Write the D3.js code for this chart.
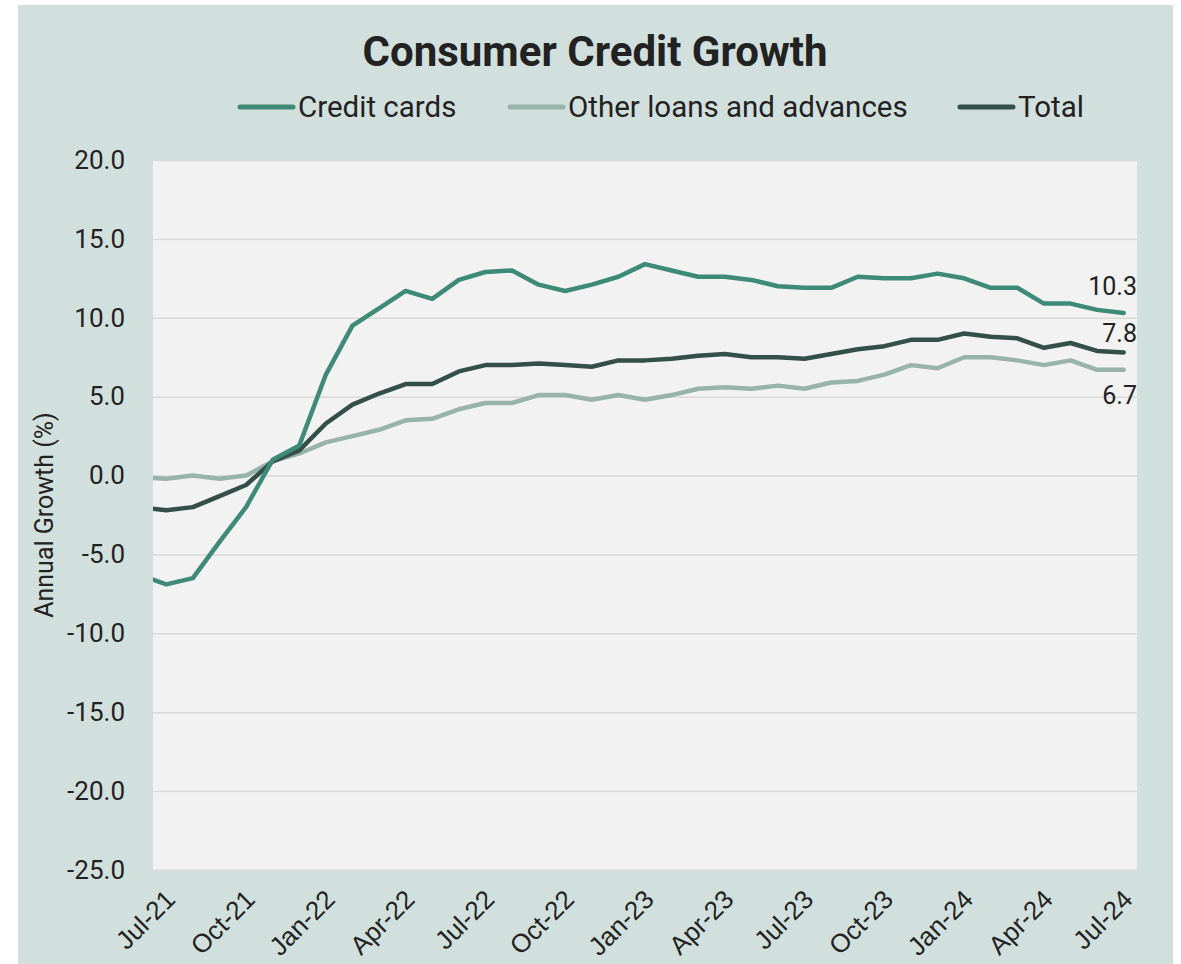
<!DOCTYPE html>
<html>
<head>
<meta charset="utf-8">
<script src="https://cdn.jsdelivr.net/npm/d3@7"></script>
<style>
  html, body { margin: 0; padding: 0; background: #ffffff; }
  svg { display: block; font-family: Roboto, "Noto Sans", sans-serif; }
</style>
</head>
<body>
<svg id="chart" width="1181" height="964"></svg>
<script>
// ---------- DATA ----------
const months = ["Jun-21",
  "Jul-21","Aug-21","Sep-21","Oct-21","Nov-21","Dec-21",
  "Jan-22","Feb-22","Mar-22","Apr-22","May-22","Jun-22",
  "Jul-22","Aug-22","Sep-22","Oct-22","Nov-22","Dec-22",
  "Jan-23","Feb-23","Mar-23","Apr-23","May-23","Jun-23",
  "Jul-23","Aug-23","Sep-23","Oct-23","Nov-23","Dec-23",
  "Jan-24","Feb-24","Mar-24","Apr-24","May-24","Jun-24",
  "Jul-24"];
const tickLabels = ["Jul-21","Oct-21","Jan-22","Apr-22","Jul-22","Oct-22","Jan-23",
  "Apr-23","Jul-23","Oct-23","Jan-24","Apr-24","Jul-24"];
const yTicks = [-25, -20, -15, -10, -5, 0, 5, 10, 15, 20];

const creditCards = [-6.3,
  -6.9, -6.5, -4.2, -2.0, 1.0, 1.9,
  6.4, 9.5, 10.6, 11.7, 11.2, 12.4,
  12.9, 13.0, 12.1, 11.7, 12.1, 12.6,
  13.4, 13.0, 12.6, 12.6, 12.4, 12.0,
  11.9, 11.9, 12.6, 12.5, 12.5, 12.8,
  12.5, 11.9, 11.9, 10.9, 10.9, 10.5,
  10.3];
const otherLoans = [-0.1,
  -0.2, 0.0, -0.2, 0.0, 0.9, 1.4,
  2.1, 2.5, 2.9, 3.5, 3.6, 4.2,
  4.6, 4.6, 5.1, 5.1, 4.8, 5.1,
  4.8, 5.1, 5.5, 5.6, 5.5, 5.7,
  5.5, 5.9, 6.0, 6.4, 7.0, 6.8,
  7.5, 7.5, 7.3, 7.0, 7.3, 6.7,
  6.7];
const total = [-2.0,
  -2.2, -2.0, -1.3, -0.6, 0.9, 1.6,
  3.3, 4.5, 5.2, 5.8, 5.8, 6.6,
  7.0, 7.0, 7.1, 7.0, 6.9, 7.3,
  7.3, 7.4, 7.6, 7.7, 7.5, 7.5,
  7.4, 7.7, 8.0, 8.2, 8.6, 8.6,
  9.0, 8.8, 8.7, 8.1, 8.4, 7.9,
  7.8];
const seriesNames = ["Credit cards", "Other loans and advances", "Total"];
const seriesColors = ["#3d8a78", "#98b4aa", "#344f47"];

// ---------- LAYOUT ----------
const svg = d3.select("#chart");
const plot = { left: 153, right: 1137, top: 160, bottom: 870 };
const firstShown = 1; // Jul-21 index in months

const x = d3.scaleLinear()
  .domain([firstShown - 0.5, months.length - 0.5])
  .range([plot.left, plot.right]);
const y = d3.scaleLinear().domain([-25, 20]).range([plot.bottom, plot.top]);

// panel background
svg.append("rect").attr("x", 18).attr("y", 5).attr("width", 1155).attr("height", 959)
  .attr("fill", "#d2e0dd");
// plot background
svg.append("rect").attr("x", plot.left).attr("y", plot.top)
  .attr("width", plot.right - plot.left).attr("height", plot.bottom - plot.top)
  .attr("fill", "#f2f2f2");

// gridlines
svg.append("g")
  .attr("transform", `translate(${plot.left},0)`)
  .call(d3.axisLeft(y).tickValues(yTicks).tickSize(-(plot.right - plot.left)).tickFormat(""))
  .call(g => g.select(".domain").remove())
  .call(g => g.selectAll("line").attr("stroke", "#d9d9d9").attr("stroke-width", 1.5));

// y tick labels
svg.append("g")
  .attr("transform", `translate(${plot.left},0)`)
  .call(d3.axisLeft(y).tickValues(yTicks).tickSize(0).tickPadding(28)
    .tickFormat(d => d.toFixed(1)))
  .call(g => g.select(".domain").remove())
  .call(g => g.selectAll("text")
    .attr("font-family", "Roboto, sans-serif")
    .attr("font-size", 26).attr("fill", "#222222"));

// y axis title
svg.append("text")
  .attr("transform", `translate(53,${(plot.top + plot.bottom) / 2}) rotate(-90)`)
  .attr("text-anchor", "middle")
  .attr("font-size", 25).attr("fill", "#222222")
  .text("Annual Growth (%)");

// x axis labels
const tickIdx = tickLabels.map(t => months.indexOf(t));
svg.append("g")
  .attr("transform", `translate(0,${plot.bottom})`)
  .call(d3.axisBottom(x).tickValues(tickIdx).tickSize(0).tickFormat(i => months[i]))
  .call(g => g.select(".domain").attr("stroke", "#d9d9d9").attr("stroke-width", 1.5))
  .call(g => g.selectAll("text")
    .attr("font-size", 26).attr("fill", "#222222")
    .attr("text-anchor", "end")
    .attr("dy", null).attr("y", null)
    .attr("transform", "translate(10,31) rotate(-45)"));

// lines
svg.append("clipPath").attr("id", "plotClip")
  .append("rect").attr("x", plot.left).attr("y", plot.top)
  .attr("width", plot.right - plot.left).attr("height", plot.bottom - plot.top);

const line = d3.line().x((d, i) => x(i)).y(d => y(d));
const allSeries = [creditCards, otherLoans, total];
const gLines = svg.append("g").attr("clip-path", "url(#plotClip)");
[1, 2, 0].forEach(k => {
  gLines.append("path")
    .datum(allSeries[k])
    .attr("d", line)
    .attr("fill", "none")
    .attr("stroke", seriesColors[k])
    .attr("stroke-width", 4.5)
    .attr("stroke-linejoin", "round")
    .attr("stroke-linecap", "round");
});

// end labels
const labelOffsets = [-18, 34, -10];
allSeries.forEach((s, k) => {
  const last = s.length - 1;
  svg.append("text")
    .attr("x", plot.right)
    .attr("y", y(s[last]) + labelOffsets[k])
    .attr("text-anchor", "end")
    .attr("font-size", 25).attr("fill", "#222222")
    .text(s[last].toFixed(1));
});

// title
svg.append("text")
  .attr("x", 595).attr("y", 66)
  .attr("text-anchor", "middle")
  .attr("font-size", 42).attr("font-weight", "bold").attr("fill", "#222222")
  .text("Consumer Credit Growth");

// legend
const legendItems = [
  { lineX: 240, textX: 298 },
  { lineX: 510, textX: 568 },
  { lineX: 960, textX: 1018 }
];
const legendY = 107;
legendItems.forEach((li, k) => {
  svg.append("line")
    .attr("x1", li.lineX).attr("x2", li.lineX + 53)
    .attr("y1", legendY).attr("y2", legendY)
    .attr("stroke", seriesColors[k]).attr("stroke-width", 5)
    .attr("stroke-linecap", "round");
  svg.append("text")
    .attr("x", li.textX).attr("y", legendY)
    .attr("dy", "0.35em")
    .attr("font-size", 29.5).attr("fill", "#222222")
    .text(seriesNames[k]);
});
</script>
</body>
</html>
